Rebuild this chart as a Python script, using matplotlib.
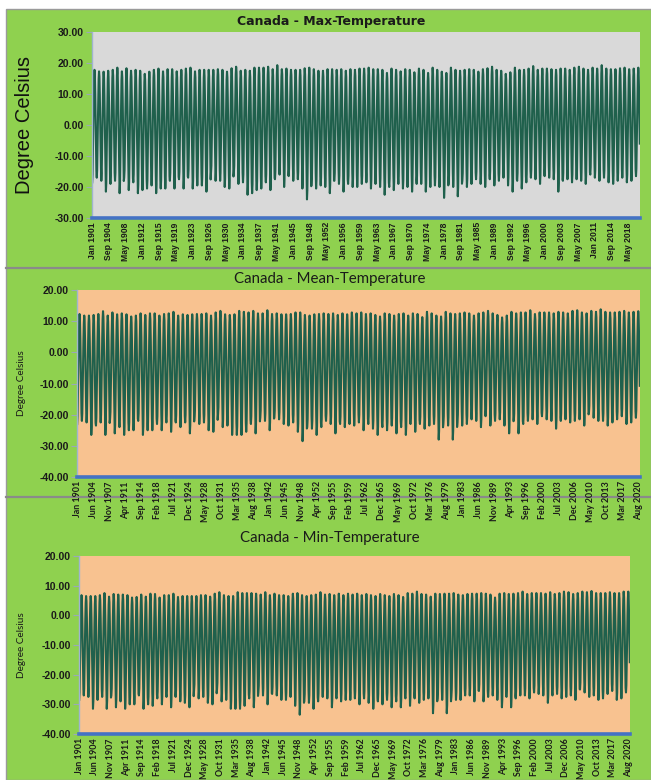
import numpy as np
import pandas as pd
import matplotlib
matplotlib.use("Agg")
import matplotlib.pyplot as plt
from matplotlib.patches import Rectangle
from matplotlib.lines import Line2D

# ---------------- data ----------------
years = list(range(1901, 2021))
last_month = "2020-11"

# relative position within the yearly cycle, Jan..Dec (0 = winter trough, 1 = summer peak)
month_profile = [0.00, 0.07, 0.27, 0.52, 0.76, 0.93, 1.00, 0.95, 0.78, 0.55, 0.30, 0.10]

max_peaks = [
    17.8, 17.3, 17.2, 17.5, 17.8, 18.5, 17.3, 18.3, 17.5, 17.8,
    17.5, 16.5, 17.2, 17.8, 18.2, 17.3, 18.0, 18.0, 17.3, 17.8,
    18.2, 18.5, 17.3, 17.8, 17.8, 17.8, 17.8, 18.0, 17.8, 17.2,
    18.3, 18.8, 17.5, 17.8, 17.5, 18.5, 18.5, 18.5, 18.8, 18.0,
    19.3, 18.0, 18.2, 17.8, 17.8, 17.8, 18.3, 18.5, 18.0, 17.5,
    17.5, 18.0, 18.0, 17.8, 18.0, 17.5, 18.0, 17.8, 18.2, 18.2,
    18.5, 18.0, 18.0, 17.8, 16.8, 18.2, 17.8, 17.3, 18.0, 17.8,
    17.0, 18.2, 17.8, 16.8, 18.5, 17.8, 17.2, 16.8, 18.5, 17.8,
    17.5, 17.8, 18.0, 17.8, 17.2, 18.0, 18.3, 18.8, 17.8, 17.5,
    16.5, 17.0, 18.5, 17.8, 17.8, 18.2, 19.0, 17.8, 18.2, 18.2,
    18.0, 17.8, 18.2, 18.2, 17.8, 18.5, 18.8, 18.2, 17.8, 18.5,
    18.2, 19.3, 18.2, 18.0, 18.0, 18.3, 18.5, 18.0, 18.2, 18.5,
]
max_troughs = [
    -18.5, -17.0, -18.0, -21.5, -19.0, -18.0, -22.0, -17.0, -21.0, -18.5,
    -22.0, -21.0, -20.5, -19.5, -22.0, -20.5, -20.5, -18.0, -20.5, -17.5,
    -20.5, -17.0, -20.5, -19.5, -19.5, -21.5, -15.5, -18.0, -18.0, -20.0,
    -20.5, -15.5, -19.0, -18.5, -22.5, -22.0, -21.0, -20.5, -18.5, -21.0,
    -17.5, -16.0, -20.0, -16.5, -18.0, -17.5, -20.5, -24.0, -19.5, -20.5,
    -19.5, -20.0, -22.0, -18.0, -19.0, -21.5, -19.0, -20.0, -20.0, -19.0,
    -18.5, -20.5, -19.0, -20.0, -22.5, -20.0, -21.0, -19.0, -20.5, -20.0,
    -21.5, -19.0, -19.0, -21.5, -20.0, -19.5, -20.0, -23.5, -19.0, -20.0,
    -23.0, -18.0, -20.0, -19.0, -17.5, -19.0, -20.0, -17.5, -19.5, -18.0,
    -17.0, -19.5, -21.5, -18.0, -20.5, -18.5, -17.0, -17.5, -19.0, -16.5,
    -17.0, -17.5, -21.5, -18.0, -17.5, -18.5, -17.5, -18.0, -19.0, -16.0,
    -17.0, -18.0, -17.0, -18.5, -19.0, -18.0, -17.0, -18.5, -18.0, -16.5,
]
mean_peaks = [
    12.3, 11.8, 11.8, 12.0, 12.3, 13.2, 11.8, 12.8, 12.2, 12.5,
    12.2, 11.5, 11.8, 12.5, 12.0, 12.5, 12.5, 11.8, 12.3, 12.5,
    13.0, 11.8, 12.2, 12.0, 12.2, 12.3, 12.3, 12.5, 11.8, 12.8,
    13.3, 12.2, 12.0, 12.2, 13.3, 13.0, 12.8, 13.3, 12.5, 12.5,
    13.5, 12.3, 12.5, 12.2, 12.2, 12.3, 12.8, 12.8, 12.0, 11.8,
    12.2, 12.3, 12.5, 12.3, 12.5, 12.0, 12.5, 12.2, 12.8, 12.5,
    12.8, 12.3, 12.5, 12.0, 11.5, 12.5, 12.3, 11.8, 12.3, 12.5,
    11.8, 12.5, 12.3, 11.3, 13.0, 12.5, 11.8, 11.5, 13.0, 12.5,
    12.3, 12.5, 12.8, 12.5, 11.8, 12.5, 12.8, 13.3, 12.5, 12.0,
    11.2, 11.8, 13.0, 12.5, 12.8, 12.8, 13.5, 12.3, 12.8, 12.8,
    12.8, 12.5, 13.0, 12.8, 12.5, 13.3, 13.5, 12.8, 12.5, 13.3,
    13.0, 13.8, 13.0, 12.8, 12.8, 13.0, 13.3, 12.8, 13.0, 13.2,
]
mean_troughs = [
    -23.0, -22.0, -22.5, -26.5, -23.5, -22.5, -26.5, -21.5, -26.0, -24.0,
    -26.5, -25.0, -25.0, -22.0, -26.5, -25.0, -25.0, -23.0, -25.0, -22.5,
    -25.5, -22.5, -24.0, -22.5, -26.0, -20.5, -23.0, -22.5, -25.0, -25.5,
    -20.0, -24.0, -23.5, -26.5, -26.5, -26.5, -25.5, -23.0, -26.0, -21.0,
    -22.0, -25.0, -21.0, -21.5, -23.0, -23.5, -22.5, -25.5, -28.5, -24.0,
    -24.5, -26.5, -24.0, -22.0, -23.0, -26.0, -23.0, -24.0, -23.0, -23.5,
    -22.5, -25.0, -23.0, -24.5, -26.5, -24.0, -25.0, -23.5, -26.0, -24.0,
    -26.5, -23.0, -25.5, -23.0, -24.5, -23.5, -23.0, -28.0, -23.0, -23.5,
    -28.0, -22.5, -23.5, -23.0, -21.5, -22.0, -24.0, -20.5, -23.5, -22.0,
    -21.5, -23.5, -26.0, -22.0, -26.0, -23.0, -22.0, -21.5, -23.0, -20.5,
    -21.5, -22.0, -24.5, -22.0, -21.5, -22.5, -22.0, -21.5, -23.5, -19.5,
    -21.0, -22.0, -22.0, -23.5, -22.5, -21.5, -20.5, -23.0, -22.5, -21.0,
]
min_peaks = [
    6.8, 6.5, 6.5, 6.5, 6.8, 7.5, 6.3, 7.2, 7.0, 7.0,
    6.8, 6.0, 6.2, 7.0, 6.3, 7.3, 7.2, 6.0, 6.8, 6.8,
    7.3, 6.2, 6.5, 6.5, 6.5, 6.5, 6.8, 6.8, 6.3, 7.3,
    7.8, 6.8, 6.5, 6.5, 7.8, 7.5, 7.5, 7.5, 7.3, 7.0,
    7.8, 6.8, 7.3, 6.8, 6.8, 6.5, 7.3, 7.5, 6.8, 6.5,
    6.8, 7.0, 7.8, 7.0, 7.2, 6.8, 7.3, 6.8, 7.3, 7.0,
    7.3, 6.8, 7.2, 6.8, 6.5, 7.2, 6.8, 6.5, 7.2, 6.8,
    6.2, 7.5, 7.3, 8.0, 7.2, 7.0, 6.3, 7.3, 7.2, 7.3,
    7.3, 7.5, 7.0, 6.8, 7.2, 7.3, 7.3, 7.5, 7.3, 7.0,
    6.0, 7.3, 7.5, 7.2, 7.3, 7.5, 8.0, 7.2, 7.5, 7.5,
    7.5, 7.3, 7.8, 7.2, 7.5, 8.0, 7.8, 7.2, 7.5, 8.0,
    7.8, 8.2, 7.5, 7.5, 7.5, 7.8, 7.5, 7.5, 8.0, 8.0,
]
min_troughs = [
    -28.5, -27.0, -27.5, -31.5, -28.5, -27.5, -31.5, -27.0, -31.0, -29.0,
    -31.5, -30.0, -30.0, -27.0, -31.5, -30.0, -30.5, -28.0, -30.0, -27.5,
    -31.0, -27.5, -29.0, -29.5, -31.0, -25.5, -28.0, -27.5, -29.5, -30.0,
    -25.0, -29.0, -28.5, -31.5, -31.5, -31.5, -30.5, -28.0, -31.0, -26.0,
    -27.0, -30.0, -26.5, -27.0, -28.5, -28.5, -27.5, -30.5, -33.5, -29.0,
    -29.5, -31.5, -29.0, -27.5, -28.0, -31.0, -28.0, -29.0, -28.5, -28.5,
    -28.0, -30.0, -28.0, -29.5, -31.5, -29.0, -30.0, -28.5, -31.0, -29.0,
    -31.0, -28.0, -30.5, -28.0, -29.5, -28.5, -28.0, -33.0, -28.0, -28.5,
    -33.0, -27.5, -28.5, -28.5, -27.0, -27.0, -29.0, -25.5, -29.0, -27.5,
    -27.0, -28.5, -31.0, -27.5, -31.0, -28.0, -27.0, -27.0, -28.0, -26.0,
    -26.5, -27.0, -29.5, -27.0, -26.5, -28.0, -27.5, -27.0, -28.5, -25.0,
    -26.0, -27.5, -27.0, -28.5, -28.0, -26.5, -25.5, -28.5, -28.0, -26.0,
]

titles = ["Canada - Max-Temperature", "Canada - Mean-Temperature", "Canada - Min-Temperature"]
y_label = "Degree Celsius"

# ---------------- build monthly series ----------------
months = pd.date_range("1901-01", last_month, freq="MS")
prof = np.array(month_profile)


def monthly(peaks, troughs):
    p = np.array(peaks)[:, None]
    t = np.array(troughs)[:, None]
    vals = (t + prof[None, :] * (p - t)).ravel()
    return vals[: len(months)]


series = [monthly(max_peaks, max_troughs),
          monthly(mean_peaks, mean_troughs),
          monthly(min_peaks, min_troughs)]
labels_all = [d.strftime("%b %Y") for d in months]

# ---------------- figure ----------------
W, H = 651, 780
fig = plt.figure(figsize=(W / 100, H / 100), dpi=100)
fig.patch.set_facecolor("white")

GREEN = "#8fd14f"
LINE = "#1f604c"
BLUE = "#4472c4"
NARROW = ["Liberation Sans Narrow", "Liberation Sans", "DejaVu Sans"]
CAL = ["Lato", "DejaVu Sans"]


def fx(px):
    return px / W


def fy(py):
    return 1 - py / H


fig.patches.append(Rectangle((fx(6), 0), 1 - fx(6), fy(9), transform=fig.transFigure,
                             facecolor=GREEN, edgecolor="#9a9a9a", lw=1.0, zorder=-10))
for yy in (268, 497):
    fig.lines.append(Line2D([fx(6), 1], [fy(yy), fy(yy)], transform=fig.transFigure,
                            color="#8a8a8a", lw=1.6, zorder=-5))

# axes boxes in pixels: left, top, right, bottom
boxes = [(92, 32, 640, 218), (77, 290, 640, 477), (79, 556, 630, 734)]
faces = ["#d9d9d9", "#f8c290", "#f8c290"]
ylims = [(-30, 30), (-40, 20), (-40, 20)]
tick_step = [44, 41, 41]

for i, (box, face, yl, stp, vals) in enumerate(zip(boxes, faces, ylims, tick_step, series)):
    l, t, r, b = box
    ax = fig.add_axes([fx(l), fy(b), fx(r) - fx(l), fy(t) - fy(b)])
    ax.set_facecolor(face)
    x = np.arange(len(vals))
    ax.plot(x, vals, color=LINE, lw=1.5, solid_joinstyle="round")
    ax.set_xlim(-0.5, len(vals) - 0.5)
    ax.set_ylim(*yl)
    ax.set_yticks(np.arange(yl[0], yl[1] + 1, 10))
    ax.yaxis.set_major_formatter(matplotlib.ticker.FuncFormatter(lambda v, p: f"{v:.2f}"))
    ticks = np.arange(0, len(vals), stp)
    ax.set_xticks(ticks)
    if i == 0:
        ax.set_xticklabels([labels_all[k] for k in ticks], rotation=90,
                           fontsize=6.2, fontweight="bold", family=NARROW, color="#1a1a1a")
    else:
        ax.set_xticklabels([labels_all[k] for k in ticks], rotation=90,
                           fontsize=6.4, fontweight="bold", family=CAL, color="#1a1a1a")
    for lab in ax.get_yticklabels():
        lab.set_fontsize(7.5)
        lab.set_fontweight("bold")
        lab.set_family(["Liberation Sans", "DejaVu Sans"])
        lab.set_color("#1a1a1a")
    ax.tick_params(axis="y", length=4, width=0.8, color="#9aa8b8", pad=2)
    ax.tick_params(axis="x", length=0, pad=3)
    for s in ("top", "right"):
        ax.spines[s].set_visible(False)
    ax.spines["left"].set_color("#9fb4cf")
    ax.spines["left"].set_linewidth(1.0)
    ax.spines["bottom"].set_color(BLUE)
    ax.spines["bottom"].set_linewidth(2.6)

    if i == 0:
        fig.text(fx(331), fy(21), titles[i], ha="center", va="center",
                 fontsize=9, fontweight="bold", family=["DejaVu Sans"], color="#1a1a1a")
        fig.text(fx(25), fy(125), y_label, ha="center", va="center", rotation=90,
                 fontsize=14.5, family=NARROW, color="#111111")
    else:
        ty = 279 if i == 1 else 538
        fig.text(fx(330), fy(ty), titles[i], ha="center", va="center",
                 fontsize=10.8, family=CAL, color="#1a1a1a")
        fig.text(fx(21), fy((t + b) / 2), y_label, ha="center", va="center",
                 rotation=90, fontsize=7.2, family=CAL, color="#1a1a1a")

fig.savefig("out.png", dpi=100, facecolor=fig.get_facecolor())
